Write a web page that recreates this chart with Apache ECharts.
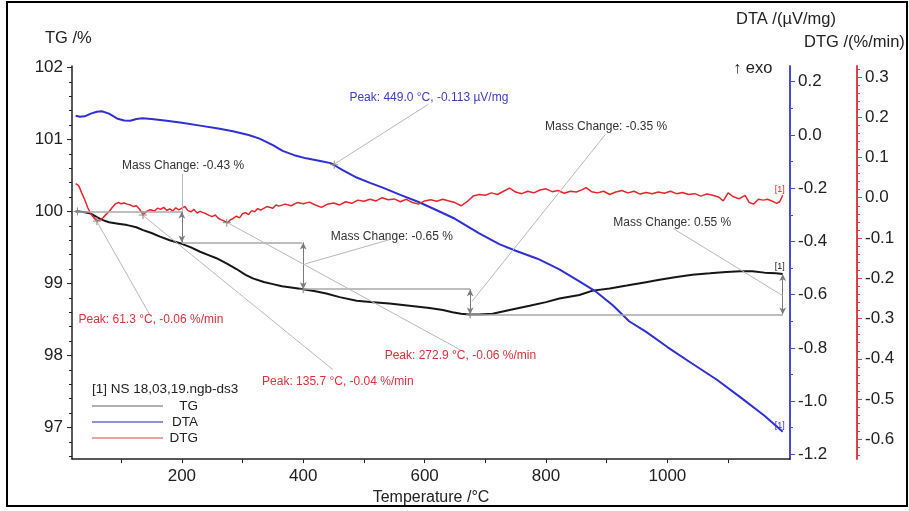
<!DOCTYPE html>
<html>
<head>
<meta charset="utf-8">
<script src="https://cdn.jsdelivr.net/npm/echarts@6.0.0/dist/echarts.min.js"></script>
<style>
  html, body { margin: 0; padding: 0; background: #fff; }
  #chart { width: 909px; height: 511px; }
</style>
</head>
<body>
<div id="chart"></div>
<script>
// TG /% against temperature /°C
const tgData = [
  [25, 100.0], [30, 100.0], [40, 99.99], [50, 99.97], [60, 99.92], [70, 99.88], [80, 99.85], [95, 99.83],
  [110, 99.81], [125, 99.78], [136, 99.74], [150, 99.7], [164, 99.65], [180, 99.6], [200, 99.55], [215, 99.5],
  [230, 99.44], [245, 99.39], [257, 99.35], [275, 99.27], [290, 99.2], [305, 99.12], [317, 99.07], [335, 99.02],
  [350, 98.99], [365, 98.96], [383, 98.94], [400, 98.92], [420, 98.89], [438, 98.86], [460, 98.81], [488, 98.76],
  [515, 98.74], [542, 98.72], [575, 98.69], [608, 98.66], [630, 98.63], [646, 98.6], [660, 98.58], [674, 98.57],
  [690, 98.57], [712, 98.58], [740, 98.63], [773, 98.69], [800, 98.74], [822, 98.79], [855, 98.84], [877, 98.9],
  [905, 98.93], [933, 98.97], [960, 99.01], [987, 99.05], [1015, 99.09], [1041, 99.12], [1070, 99.14],
  [1097, 99.16], [1120, 99.17], [1140, 99.17], [1160, 99.15], [1179, 99.14], [1190, 99.13]
]

// DTA /(µV/mg)
const dtaData = [
  [25, 0.072], [32, 0.068], [40, 0.07], [50, 0.08], [60, 0.087], [68, 0.089], [80, 0.08], [93, 0.062],
  [105, 0.054], [115, 0.053], [125, 0.06], [135, 0.063], [150, 0.06], [175, 0.053], [200, 0.046], [230, 0.035],
  [260, 0.024], [284, 0.014], [310, 0.0], [328, -0.014], [350, -0.038], [366, -0.06], [385, -0.076],
  [405, -0.088], [430, -0.099], [445, -0.106], [450, -0.112], [465, -0.132], [488, -0.16], [510, -0.18],
  [531, -0.198], [560, -0.225], [590, -0.252], [620, -0.283], [650, -0.315], [690, -0.37], [723, -0.41],
  [750, -0.435], [786, -0.465], [822, -0.505], [855, -0.55], [883, -0.59], [910, -0.64], [937, -0.7],
  [965, -0.74], [1000, -0.797], [1040, -0.858], [1081, -0.919], [1120, -0.985], [1160, -1.055], [1190, -1.115]
]

// DTG /(%/min)
const dtgData = [
  [25, 0.035], [30, 0.03], [35, 0.012], [40, -0.005], [45, -0.025], [50, -0.04], [55, -0.05], [60, -0.057],
  [65, -0.055], [70, -0.05], [75, -0.042], [80, -0.034], [85, -0.025], [90, -0.016], [95, -0.012], [100, -0.015],
  [105, -0.013], [110, -0.016], [115, -0.018], [120, -0.022], [125, -0.02], [130, -0.028], [136, -0.042],
  [142, -0.034], [148, -0.03], [155, -0.033], [160, -0.026], [165, -0.029], [170, -0.024], [175, -0.031],
  [180, -0.028], [185, -0.033], [190, -0.025], [195, -0.03], [200, -0.026], [205, -0.022], [210, -0.032],
  [215, -0.035], [220, -0.029], [225, -0.038], [230, -0.034], [235, -0.037], [240, -0.04], [245, -0.044],
  [250, -0.047], [255, -0.043], [260, -0.051], [265, -0.055], [270, -0.058], [275, -0.062], [280, -0.055],
  [285, -0.051], [290, -0.046], [295, -0.05], [300, -0.04], [305, -0.037], [310, -0.042], [315, -0.032],
  [320, -0.035], [325, -0.027], [330, -0.031], [340, -0.022], [350, -0.026], [355, -0.018], [360, -0.021],
  [370, -0.016], [380, -0.02], [390, -0.012], [400, -0.015], [410, -0.011], [420, -0.018], [430, -0.024],
  [440, -0.016], [450, -0.013], [460, -0.018], [470, -0.01], [480, -0.014], [490, -0.006], [500, -0.009],
  [510, -0.004], [520, -0.008], [530, 0.0], [540, -0.005], [550, -0.003], [560, -0.01], [570, -0.004],
  [580, -0.012], [590, -0.016], [600, -0.008], [610, -0.005], [620, -0.009], [630, -0.004], [640, -0.008],
  [650, -0.012], [660, -0.02], [670, -0.01], [680, 0.004], [690, 0.008], [700, 0.006], [710, 0.012],
  [720, 0.008], [730, 0.016], [740, 0.024], [750, 0.014], [760, 0.01], [770, 0.016], [780, 0.012],
  [790, 0.019], [800, 0.022], [810, 0.015], [820, 0.018], [830, 0.011], [840, 0.016], [850, 0.014],
  [860, 0.02], [866, 0.025], [875, 0.015], [885, 0.012], [895, 0.016], [905, 0.008], [915, 0.014],
  [925, 0.018], [935, 0.012], [945, 0.016], [955, 0.009], [965, 0.013], [975, 0.01], [985, 0.014],
  [995, 0.011], [1005, 0.016], [1015, 0.01], [1025, 0.013], [1035, 0.008], [1045, 0.01], [1055, 0.004],
  [1065, 0.009], [1075, 0.006], [1085, 0.001], [1092, -0.008], [1100, 0.012], [1108, 0.003], [1118, -0.003],
  [1128, 0.006], [1135, -0.012], [1142, -0.016], [1150, -0.004], [1158, -0.006], [1165, -0.004],
  [1172, -0.008], [1180, -0.014], [1185, -0.01], [1190, 0.006]
]

// mass change evaluation: [from °C, to °C, TG level]
const stepLevels = [[28, 200, 100.0], [200, 398, 99.57], [400, 675, 98.92], [675, 1190, 98.57]]
// double arrows: [°C, TG from, TG to]
const stepArrows = [[200, 100.0, 99.57], [400, 99.57, 98.92], [675, 98.92, 98.57], [1190, 98.57, 99.13]]
const massTexts = ['Mass Change: -0.43 %', 'Mass Change: -0.65 %', 'Mass Change: -0.35 %', 'Mass Change: 0.55 %']
const dtgPeakTexts = ['Peak: 61.3 °C, -0.06 %/min', 'Peak: 135.7 °C, -0.04 %/min', 'Peak: 272.9 °C, -0.06 %/min']
const dtaPeakText = 'Peak: 449.0 °C, -0.113 µV/mg'

// ticks and tick labels
const xTicks = [100, 200, 300, 400, 500, 600, 700, 800, 900, 1000, 1100]
const xLabels = [200, 400, 600, 800, 1000]
const tgTicks = [97, 98, 99, 100, 101, 102]
const tgMinor = [96.6, 96.8, 97.2, 97.4, 97.6, 97.8, 98.2, 98.4, 98.6, 98.8, 99.2, 99.4, 99.6, 99.8,
  100.2, 100.4, 100.6, 100.8, 101.2, 101.4, 101.6, 101.8]
const dtaTicks = [-1.2, -1.0, -0.8, -0.6, -0.4, -0.2, 0.0, 0.2]
const dtaMinor = [-1.1, -0.9, -0.7, -0.5, -0.3, -0.1, 0.1]
const dtgTicks = [-0.6, -0.5, -0.4, -0.3, -0.2, -0.1, 0.0, 0.1, 0.2, 0.3]
const dtgMinor = [-0.64, -0.62, -0.58, -0.56, -0.54, -0.52, -0.48, -0.46, -0.44, -0.42, -0.38, -0.36, -0.34,
  -0.32, -0.28, -0.26, -0.24, -0.22, -0.18, -0.16, -0.14, -0.12, -0.08, -0.06, -0.04, -0.02, 0.02, 0.04,
  0.06, 0.08, 0.12, 0.14, 0.16, 0.18, 0.22, 0.24, 0.26, 0.28, 0.32]

const font = "'Liberation Sans', Arial, sans-serif"
const cTG = '#161616'
const cDTA = '#2f2fd6'
const cDTG = '#e3262c'
const cLeader = '#b9b9b9'
const crossPath = 'path://M5,0L5,10M0,5L10,5'

const leader = (a, b) => [{ coord: a, lineStyle: { color: cLeader, width: 1, type: 'solid' } }, { coord: b }]
const note = (coord, text, color) => ({
  coord,
  symbol: 'circle',
  symbolSize: 0,
  label: { show: true, position: 'inside', formatter: text, color, fontSize: 12, fontFamily: font }
})
const cross = coord => ({
  coord,
  symbol: crossPath,
  symbolSize: 8,
  itemStyle: { color: 'rgba(0,0,0,0)', borderColor: '#8a8a8a', borderWidth: 1 },
  label: { show: false }
})
const markLineBase = { silent: true, symbol: 'none', label: { show: false }, lineStyle: { type: 'solid' } }

function valueAxis(min, max, position, offset, color, ticks, minor, decimals, lineWidth) {
  return [
    {
      type: 'value', min, max, position, offset,
      axisLine: { show: true, onZero: false, lineStyle: { color, width: lineWidth } },
      axisTick: { show: true, inside: false, length: 5, customValues: ticks, lineStyle: { color, width: 1 } },
      axisLabel: {
        show: true, customValues: ticks, margin: position === 'left' ? 9 : 8,
        fontSize: 17, color: '#222', fontFamily: font,
        formatter: v => (decimals ? Number(v).toFixed(decimals) : String(v))
      },
      splitLine: { show: false }
    },
    {
      type: 'value', min, max, position, offset,
      axisLine: { show: false, onZero: false },
      axisTick: { show: true, inside: false, length: 3, customValues: minor, lineStyle: { color, width: 1 } },
      axisLabel: { show: false },
      splitLine: { show: false }
    }
  ]
}

const tgAxes = valueAxis(96.56, 102.02, 'left', 0, '#222', tgTicks, tgMinor, 0, 1.5)
const dtaAxes = valueAxis(-1.218, 0.259, 'right', 0, '#4a4ad2', dtaTicks, dtaMinor, 1, 2)
const dtgAxes = valueAxis(-0.649, 0.327, 'right', 67, '#e0404a', dtgTicks, dtgMinor, 1, 2)

const titleStyle = { fontSize: 16.5, fontWeight: 'normal', color: '#222', fontFamily: font }

const option = {
  animation: false,
  backgroundColor: '#fff',
  title: [
    { text: 'TG /%', left: 45, top: 30, padding: 0, textStyle: titleStyle },
    { text: 'DTA /(µV/mg)', left: 736, top: 11, padding: 0, textStyle: titleStyle },
    { text: 'DTG /(%/min)', left: 804, top: 34, padding: 0, textStyle: titleStyle },
    { text: '↑ exo', left: 733, top: 60, padding: 0, textStyle: titleStyle },
    { text: '[1] NS 18,03,19.ngb-ds3', left: 92, top: 382, padding: 0, textStyle: Object.assign({}, titleStyle, { fontSize: 13.5 }) }
  ],
  legend: {
    orient: 'vertical',
    left: 92,
    top: 399,
    padding: 0,
    icon: 'rect',
    itemWidth: 71,
    itemHeight: 2,
    itemGap: 2,
    selectedMode: false,
    formatter: n => `{r|${n}}`,
    textStyle: {
      fontSize: 13.5, color: '#222', fontFamily: font,
      rich: { r: { width: 30, align: 'right', fontSize: 13.5, color: '#222', fontFamily: font } }
    },
    data: [
      { name: 'TG', itemStyle: { color: '#b0b0b0' } },
      { name: 'DTA', itemStyle: { color: '#9090d8' } },
      { name: 'DTG', itemStyle: { color: '#e9a3a3' } }
    ]
  },
  grid: { left: 72, right: 119, top: 66, bottom: 45 },
  xAxis: {
    type: 'value',
    min: 19,
    max: 1202,
    name: 'Temperature /°C',
    nameLocation: 'middle',
    nameGap: 23,
    nameTextStyle: { fontSize: 16, color: '#222', fontFamily: font },
    axisLine: { show: true, onZero: false, lineStyle: { color: '#222', width: 1.5 } },
    axisTick: { show: true, inside: false, length: 4, customValues: xTicks, lineStyle: { color: '#222' } },
    axisLabel: { customValues: xLabels, margin: 9, fontSize: 17, color: '#222', fontFamily: font, formatter: v => String(v) },
    splitLine: { show: false }
  },
  // 0 TG, 1 DTA, 2 DTG, 3-5 minor tick axes
  yAxis: [tgAxes[0], dtaAxes[0], dtgAxes[0], tgAxes[1], dtaAxes[1], dtgAxes[1]],
  series: [
    {
      name: 'TG',
      type: 'line',
      yAxisIndex: 0,
      data: tgData,
      showSymbol: false,
      lineStyle: { color: cTG, width: 2 },
      itemStyle: { color: cTG },
      endLabel: { show: true, formatter: '[1]', fontSize: 9, color: cTG, fontFamily: font, offset: [-16, -8] },
      markLine: Object.assign({}, markLineBase, {
        data: [
          ...stepLevels.map(([a, b, y]) => [{ coord: [a, y], lineStyle: { color: '#a9a9a9', width: 1.5, type: 'solid' } }, { coord: [b, y] }]),
          ...stepArrows.map(([t, y1, y2]) => [
            { coord: [t, y1], symbol: 'arrow', symbolSize: [5, 7], lineStyle: { color: '#7a7a7a', width: 1, type: 'solid' } },
            { coord: [t, y2], symbol: 'arrow', symbolSize: [5, 7] }
          ]),
          leader([200, 100.52], [200, 100.0]),
          leader([403, 99.27], [543, 99.61]),
          leader([678, 98.75], [898, 101.07]),
          leader([1190, 98.83], [1010, 99.76])
        ]
      }),
      markPoint: {
        silent: true,
        data: [
          note([202, 100.63], massTexts[0], '#333'),
          note([546, 99.65], massTexts[1], '#333'),
          note([899, 101.18], massTexts[2], '#333'),
          note([1008, 99.85], massTexts[3], '#333'),
          cross([28, 100.0]),
          cross([400, 98.92]),
          cross([675, 98.57])
        ]
      }
    },
    {
      name: 'DTA',
      type: 'line',
      yAxisIndex: 1,
      data: dtaData,
      showSymbol: false,
      lineStyle: { color: cDTA, width: 2 },
      itemStyle: { color: cDTA },
      endLabel: { show: true, formatter: '[1]', fontSize: 9, color: cDTA, fontFamily: font, offset: [-16, -6] },
      markLine: Object.assign({}, markLineBase, {
        data: [leader([451, -0.11], [606, 0.115])]
      }),
      markPoint: {
        silent: true,
        data: [note([607, 0.141], dtaPeakText, '#3c3cc8'), cross([451, -0.112])]
      }
    },
    {
      name: 'DTG',
      type: 'line',
      yAxisIndex: 2,
      data: dtgData,
      showSymbol: false,
      lineStyle: { color: cDTG, width: 1.5 },
      itemStyle: { color: cDTG },
      endLabel: { show: true, formatter: '[1]', fontSize: 9, color: cDTG, fontFamily: font, offset: [-16, -6] },
      markLine: Object.assign({}, markLineBase, {
        data: [
          leader([60, -0.059], [147, -0.29]),
          leader([136, -0.044], [449, -0.427]),
          leader([274, -0.061], [659, -0.378])
        ]
      }),
      markPoint: {
        silent: true,
        data: [
          note([149, -0.302], dtgPeakTexts[0], '#d8333a'),
          note([457, -0.456], dtgPeakTexts[1], '#d8333a'),
          note([659, -0.393], dtgPeakTexts[2], '#d8333a'),
          cross([60, -0.058]),
          cross([136, -0.043]),
          cross([274, -0.062])
        ]
      }
    }
  ],
  graphic: [
    {
      type: 'rect',
      silent: true,
      shape: { x: 7, y: 2, width: 900, height: 504 },
      style: { fill: 'none', stroke: '#000', lineWidth: 2 }
    }
  ]
}

const chart = echarts.init(document.getElementById('chart'))
chart.setOption(option)
</script>
</body>
</html>
